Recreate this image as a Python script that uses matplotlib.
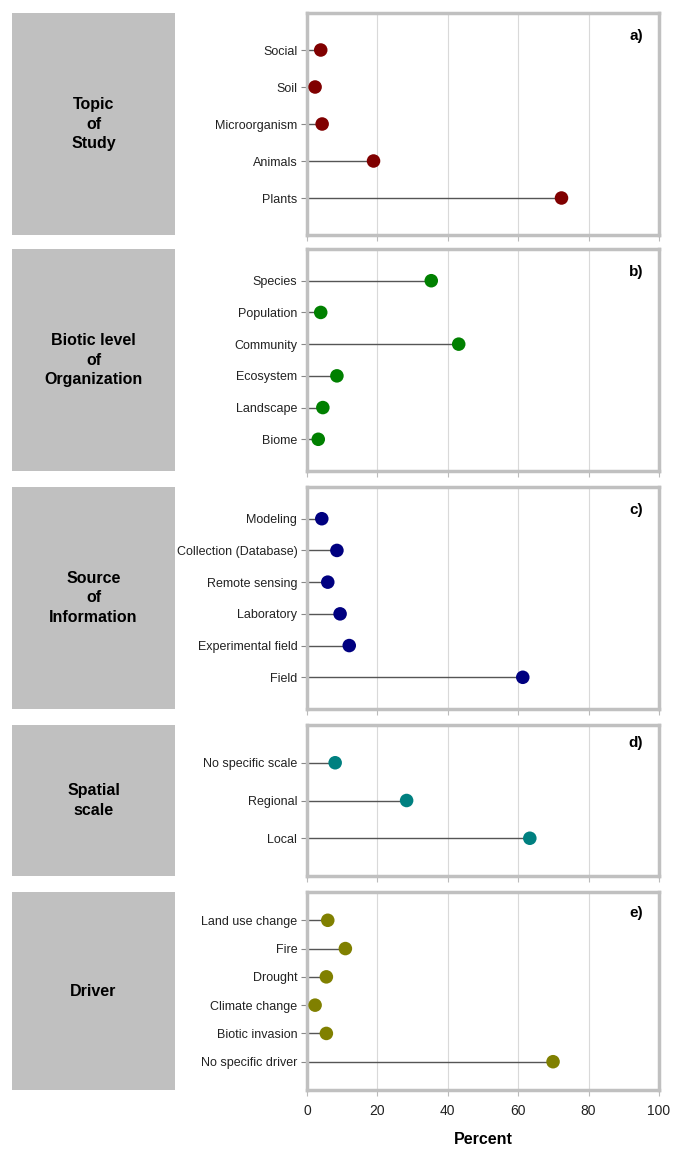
import matplotlib
matplotlib.use('Agg')
import matplotlib.pyplot as plt

plt.rcParams['font.family'] = ['Liberation Sans', 'DejaVu Sans']

# data (percent)
topic_labels = ['Social', 'Soil', 'Microorganism', 'Animals', 'Plants']
topic_values = [3.9, 2.3, 4.3, 18.9, 72.3]

biotic_labels = ['Species', 'Population', 'Community', 'Ecosystem', 'Landscape', 'Biome']
biotic_values = [35.3, 3.9, 43.1, 8.5, 4.5, 3.2]

source_labels = ['Modeling', 'Collection (Database)', 'Remote sensing', 'Laboratory',
                 'Experimental field', 'Field']
source_values = [4.2, 8.5, 5.9, 9.4, 12.0, 61.3]

spatial_labels = ['No specific scale', 'Regional', 'Local']
spatial_values = [8.0, 28.3, 63.3]

driver_labels = ['Land use change', 'Fire', 'Drought', 'Climate change', 'Biotic invasion',
                 'No specific driver']
driver_values = [5.9, 10.9, 5.5, 2.3, 5.5, 69.9]

x_ticks = [0, 20, 40, 60, 80, 100]

W, H = 685, 1156
fig = plt.figure(figsize=(W / 100, H / 100), dpi=100)
fig.patch.set_facecolor('white')


def px_axes(x0, x1, top, bottom):
    return fig.add_axes([x0 / W, 1 - bottom / H, (x1 - x0) / W, (bottom - top) / H])


panels = [
    ('Topic\nof\nStudy', topic_labels, topic_values, '#800000', 'a)', (13, 235)),
    ('Biotic level\nof\nOrganization', biotic_labels, biotic_values, '#008000', 'b)', (249, 471)),
    ('Source\nof\nInformation', source_labels, source_values, '#000080', 'c)', (487, 709)),
    ('Spatial\nscale', spatial_labels, spatial_values, '#008080', 'd)', (725, 876)),
    ('Driver', driver_labels, driver_values, '#808000', 'e)', (892, 1090)),
]

for k, (title, labels, values, color, letter, (top, bottom)) in enumerate(panels):
    # grey label box on the left
    box = px_axes(12, 175, top, bottom)
    box.set_facecolor('#c0c0c0')
    box.set_xticks([])
    box.set_yticks([])
    for sp in box.spines.values():
        sp.set_visible(False)
    box.text(0.5, 0.5, title, ha='center', va='center', fontsize=11.5,
             fontweight='bold', linespacing=1.4, transform=box.transAxes)

    # lollipop panel
    ax = px_axes(307, 659, top, bottom)
    n = len(labels)
    ypos = [n - 1 - i for i in range(n)]
    ax.hlines(ypos, 0, values, color='#555555', linewidth=1.0, zorder=2)
    ax.scatter(values, ypos, s=95, color=color, zorder=3, edgecolors='none')
    ax.set_xlim(0, 100)
    ax.set_ylim(-1, n)
    ax.set_yticks(ypos)
    ax.set_yticklabels(labels, fontsize=9)
    ax.set_xticks(x_ticks)
    ax.grid(axis='x', color='#d9d9d9', linewidth=0.8, zorder=0)
    ax.set_axisbelow(True)
    ax.tick_params(axis='y', length=4, width=0.8, color='#888888', pad=3, labelcolor='#222222')
    ax.tick_params(axis='x', length=4, width=0.8, color='#bbbbbb', pad=6, labelsize=10,
                   labelcolor='#222222')
    for sp in ax.spines.values():
        sp.set_color('#c0c0c0')
        sp.set_linewidth(2.5)
    ax.text(0.955, 0.93, letter, transform=ax.transAxes, ha='right', va='top',
            fontsize=11, fontweight='bold')
    if k < len(panels) - 1:
        ax.tick_params(axis='x', labelbottom=False)
    else:
        ax.set_xlabel('Percent', fontsize=11.5, fontweight='bold', labelpad=10)

fig.savefig('out.png', dpi=100, facecolor='white')
